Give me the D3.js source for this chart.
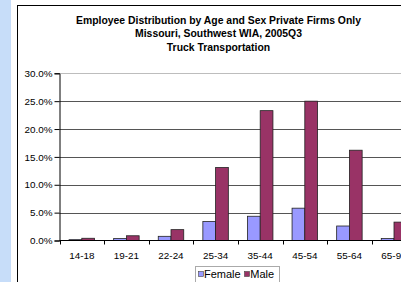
<!DOCTYPE html>
<html><head><meta charset="utf-8">
<script src="https://cdn.jsdelivr.net/npm/d3@7"></script>
<style>body{margin:0;background:#fff}svg{display:block}</style>
</head><body>
<script>
const categories = ["14-18","19-21","22-24","25-34","35-44","45-54","55-64","65-99"];
const female = [0.15,0.35,0.75,3.4,4.35,5.8,2.6,0.35];
const male = [0.4,0.85,1.95,13.1,23.3,25.0,16.2,3.3];
const seriesNames = ["Female","Male"];
const seriesColors = ["#9999ff","#993366"];
const yTicks = [0,5,10,15,20,25,30];
const titleLines = ["Employee Distribution by Age and Sex Private Firms Only","Missouri, Southwest WIA, 2005Q3","Truck Transportation"];

const W=401,H=282;
const svg=d3.select("body").append("svg").attr("width",W).attr("height",H);
const font="Liberation Sans, Arial, sans-serif";
svg.append("rect").attr("x",0).attr("y",0).attr("width",11).attr("height",H).attr("fill","#c7ddf9");
svg.append("rect").attr("x",17.5).attr("y",5.5).attr("width",W+20).attr("height",H+20).attr("fill","none").attr("stroke","#000").attr("stroke-width",1);

const tg=svg.append("g").attr("font-family",font).attr("font-weight","bold").attr("font-size","10.4px").attr("fill","#000").attr("text-anchor","middle");
titleLines.forEach((t,i)=>tg.append("text").attr("x",218.5).attr("y",24.3+i*13.1).text(t));

const x0=59.5, band=44.6;
const x=d3.scaleBand().domain(categories).range([x0,x0+band*categories.length]).paddingInner(0).paddingOuter(0);
const y=d3.scaleLinear().domain([0,30]).range([240.5,73.3]);

// gridlines
svg.append("g").selectAll("line").data(yTicks.filter(d=>d>0)).join("line")
 .attr("x1",x0).attr("x2",W).attr("y1",d=>Math.round(y(d))+0.5).attr("y2",d=>Math.round(y(d))+0.5)
 .attr("stroke",d=>d===30?"#bdbdbd":"#555").attr("stroke-width",1);

// bars
const inner=d3.scaleBand().domain(seriesNames).range([0,band]).paddingInner(0).paddingOuter(0.75);
const data=categories.map((c,i)=>({c,vals:[female[i],male[i]]}));
const bg=svg.append("g");
data.forEach(d=>{
  d.vals.forEach((v,j)=>{
    bg.append("rect").attr("x",x(d.c)+inner(seriesNames[j])).attr("width",inner.bandwidth())
      .attr("y",y(v)).attr("height",y(0)-y(v))
      .attr("fill",seriesColors[j]).attr("stroke","#222").attr("stroke-width",0.8);
  });
});

// y axis
const ya=d3.axisLeft(y).tickValues(yTicks).tickFormat(d=>d3.format(".1f")(d)+"%").tickSize(5).tickPadding(2);
const yg=svg.append("g").attr("transform",`translate(${x0},0)`).call(ya);
yg.select(".domain").attr("stroke","#000");
yg.selectAll(".tick line").attr("stroke","#000");
yg.selectAll("text").attr("font-family",font).attr("font-size","9.9px").attr("fill","#000");

// x axis
svg.append("line").attr("x1",x0).attr("x2",W).attr("y1",240.5).attr("y2",240.5).attr("stroke","#000");
const bounds=d3.range(categories.length+1).map(i=>x0+i*band);
svg.append("g").selectAll("line").data(bounds).join("line")
 .attr("x1",d=>Math.round(d)+0.5).attr("x2",d=>Math.round(d)+0.5).attr("y1",240.5).attr("y2",244.5).attr("stroke","#000");
svg.append("g").selectAll("text").data(categories).join("text")
 .attr("x",d=>x(d)+band/2).attr("y",258.8).attr("text-anchor","middle")
 .attr("font-family",font).attr("font-size","9.9px").attr("fill","#000").text(d=>d);

// legend
const lg=svg.append("g").attr("font-family",font).attr("font-size","11px");
lg.append("rect").attr("x",195.5).attr("y",266.5).attr("width",84).attr("height",17).attr("fill","#fff").attr("stroke","#aaa");
const litems=[{n:"Female",sx:198.5,tx:204},{n:"Male",sx:244.5,tx:250.3}];
litems.forEach((it,i)=>{
  lg.append("rect").attr("x",it.sx).attr("y",271.5).attr("width",5).attr("height",5).attr("fill",seriesColors[i]).attr("stroke","#444").attr("stroke-width",0.6);
  lg.append("text").attr("x",it.tx).attr("y",278.2).attr("fill","#000").text(it.n);
});
</script>
</body></html>
